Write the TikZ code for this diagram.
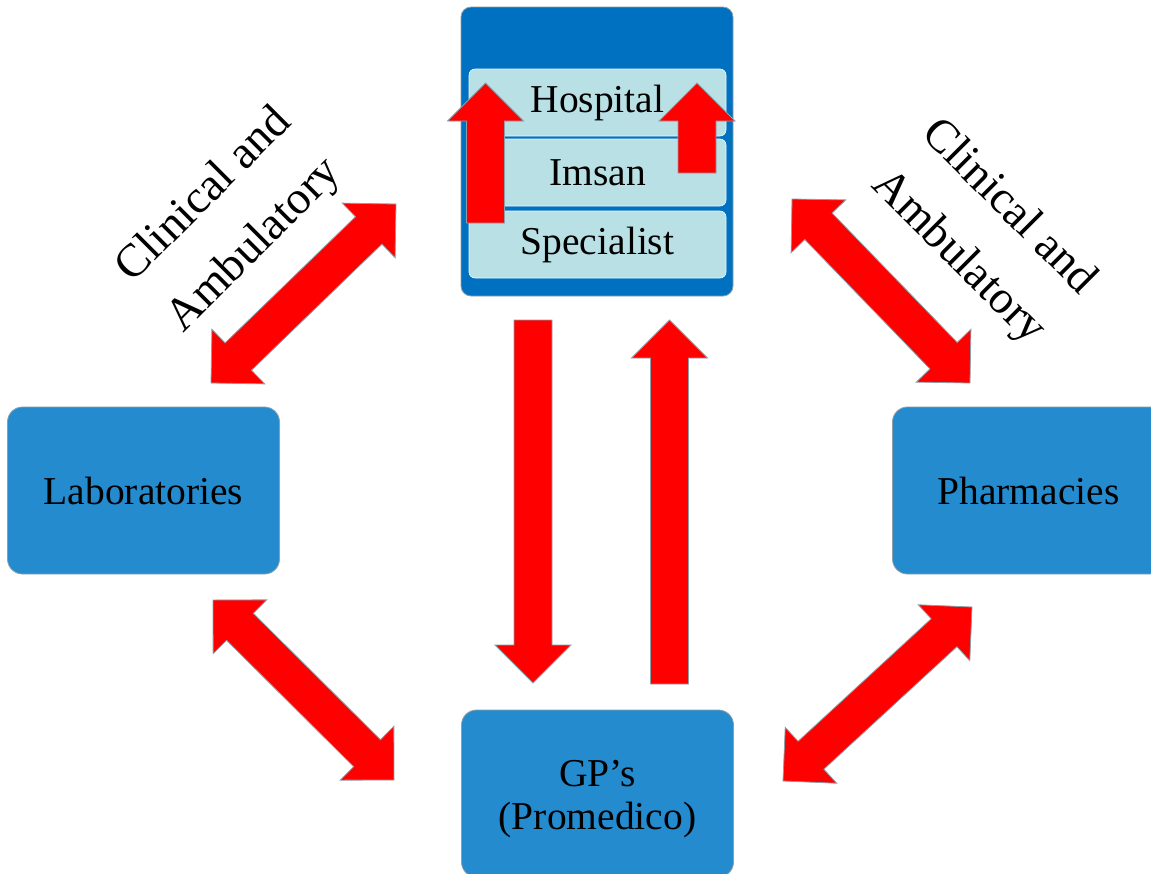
\documentclass[tikz,border=0pt]{standalone}
\usepackage{fontspec}
\setmainfont{Liberation Serif}
\usetikzlibrary{calc}
\definecolor{darkblue}{RGB}{0,112,192}
\definecolor{midblue}{RGB}{35,139,206}
\definecolor{lightblue}{RGB}{185,224,228}
\definecolor{edgegray}{RGB}{140,160,170}
\definecolor{arrowred}{RGB}{255,0,0}
\def\ahl{38pt}
\def\ahw{38pt}
\def\asw{19pt}
\newcommand\dblarrow[2]{%
  \draw[blockarrow] (#1) -- ($(#1)!\ahl!(#2)!\ahw!90:(#2)$) -- ($(#1)!\ahl!(#2)!\asw!90:(#2)$)
   -- ($(#2)!\ahl!(#1)!\asw!-90:(#1)$) -- ($(#2)!\ahl!(#1)!\ahw!-90:(#1)$) -- (#2)
   -- ($(#2)!\ahl!(#1)!\ahw!90:(#1)$) -- ($(#2)!\ahl!(#1)!\asw!90:(#1)$)
   -- ($(#1)!\ahl!(#2)!\asw!-90:(#2)$) -- ($(#1)!\ahl!(#2)!\ahw!-90:(#2)$) -- cycle;}
\newcommand\sglarrow[2]{%
  \draw[blockarrow] ($(#1)!\asw!90:(#2)$) -- ($(#2)!\ahl!(#1)!\asw!-90:(#1)$)
   -- ($(#2)!\ahl!(#1)!\ahw!-90:(#1)$) -- (#2) -- ($(#2)!\ahl!(#1)!\ahw!90:(#1)$)
   -- ($(#2)!\ahl!(#1)!\asw!90:(#1)$) -- ($(#1)!\asw!-90:(#2)$) -- cycle;}
\begin{document}
\begin{tikzpicture}[x=1pt,y=-1pt,
  blockarrow/.style={fill=arrowred,draw=edgegray,line width=0.8pt,line join=miter},
  bigbox/.style={draw=edgegray,line width=0.8pt,rounded corners=15pt,fill=midblue,
    minimum width=272pt,minimum height=167pt,inner sep=0pt,align=center,
    font=\fontsize{39.5}{42}\selectfont},
  boxtext/.style={inner sep=0pt,align=center,font=\fontsize{39.5}{43}\selectfont},
  innerbox/.style={draw=white!80!lightblue,line width=0.6pt,rounded corners=6pt,fill=lightblue,
    minimum width=257pt,minimum height=67pt,inner sep=0pt,
    font=\fontsize{39.5}{42}\selectfont},
  sidelabel/.style={inner sep=0pt,align=center,font=\fontsize{46.5}{71}\selectfont}]
\useasboundingbox (0,0) rectangle (1151,873);
\clip (0,0) rectangle (1151,873);
\fill[white] (0,0) rectangle (1151,873);
% top box
\node[draw=edgegray,line width=0.8pt,rounded corners=10pt,fill=darkblue,
  minimum width=272pt,minimum height=289pt,inner sep=0pt] (top) at (597,151.5) {};
\node[innerbox] (hosp) at (597.5,102.5) {Hospital};
\node[innerbox] (imsan) at (597.5,172.5) {Imsan};
\node[innerbox] (spec) at (597.5,244.5) {Specialist};
% other boxes
\node[bigbox] (lab) at (143.5,490.5) {Laboratories};
\node[bigbox] (pharm) at (1028.5,490.5) {Pharmacies};
\node[bigbox] (gp) at (597.5,793.5) {};
\node[boxtext] (gptext) at (597.5,799) {GP’s\\(Promedico)};
% side labels
\node[sidelabel,rotate=45] (cl) at (230,221) {Clinical and\\Ambulatory};
\node[sidelabel,rotate=-45] (cr) at (983,233) {Clinical and\\Ambulatory};
% arrow end points
\coordinate (hl0) at (485.5,223);  \coordinate (hl1) at (485.5,83);
\coordinate (hr0) at (697,173);    \coordinate (hr1) at (697,83);
\coordinate (dn0) at (533,320);    \coordinate (dn1) at (533,683);
\coordinate (up0) at (669.5,684);  \coordinate (up1) at (669.5,320);
\coordinate (tl0) at (211,383);    \coordinate (tl1) at (396,204);
\coordinate (tr0) at (792,199);    \coordinate (tr1) at (970,383);
\coordinate (bl0) at (213,600);    \coordinate (bl1) at (394,780);
\coordinate (br0) at (783,781);    \coordinate (br1) at (972,607);
% arrows
\sglarrow{hl0}{hl1}
\sglarrow{hr0}{hr1}
\sglarrow{dn0}{dn1}
\sglarrow{up0}{up1}
\dblarrow{tl0}{tl1}
\dblarrow{tr0}{tr1}
\dblarrow{bl0}{bl1}
\dblarrow{br0}{br1}
\end{tikzpicture}
\end{document}
